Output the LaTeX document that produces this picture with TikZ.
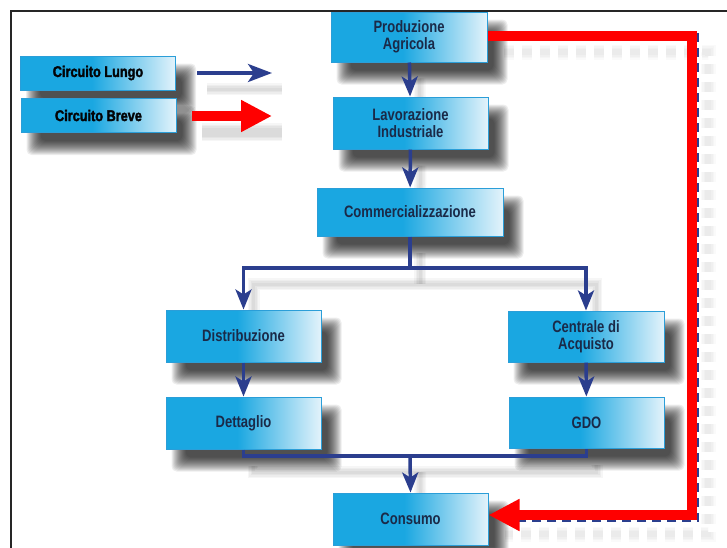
\documentclass[tikz,border=0pt]{standalone}
\usepackage{fontspec}
\setmainfont{Liberation Sans}[FakeStretch=0.82]
\newfontfamily\boxfont{Liberation Sans}[FakeStretch=0.79]
\newfontfamily\legfont{Liberation Sans}[FakeStretch=0.82,FakeBold=2]
\usetikzlibrary{arrows.meta}
\definecolor{boxcyan}{HTML}{1AA7E1}
\definecolor{boxlight}{HTML}{E3F3FB}
\definecolor{boxedge}{HTML}{2B9ED8}
\definecolor{navytext}{HTML}{1A2A48}
\definecolor{navyline}{HTML}{2B3E8E}
\definecolor{redline}{HTML}{FF0000}
\pgfdeclarehorizontalshading{boxshade}{100bp}{color(0bp)=(boxcyan); color(48bp)=(boxcyan); color(75bp)=(boxlight); color(100bp)=(boxlight)}
\pgfdeclarelayer{bg}
\pgfsetlayers{bg,main}
\begin{document}
\begin{tikzpicture}[x=1pt,y=-1pt,
  box/.style={draw=boxedge, line width=1pt, shade, shading=boxshade,
    minimum width=155pt, minimum height=52pt, inner sep=0pt, align=center,
    text=navytext, font=\boxfont\bfseries\fontsize{16.5}{17.5}\selectfont},
  legendbox/.style={box, minimum height=34pt, text=black!90!navytext, font=\legfont\bfseries\fontsize{15.5}{17}\selectfont},
  conn/.style={draw=navyline, line width=3.5pt},
  arr/.style={conn, -{Stealth[length=20pt,width=16pt,inset=5pt]}},
  legarr/.style={conn, -{Stealth[length=24pt,width=18pt,inset=6pt]}},
  redarr/.style={draw=redline, line width=10pt, line join=miter, -{Triangle[length=31pt,width=30pt]}},
  bluedash/.style={draw=navyline, line width=1.5pt, dash pattern=on 9pt off 6pt},
  lineshadow/.style={draw=black, draw opacity=0.035, transform canvas={xshift=10pt,yshift=-16pt}},
  redshadow/.style={draw=black, draw opacity=0.02, dash pattern=on 10pt off 8pt, transform canvas={xshift=16pt,yshift=-15pt}},
  softshadow/.style={fill=black, fill opacity=0.07, rounded corners=5pt},
  framestyle/.style={draw=black!85, line width=2pt}
]
\useasboundingbox (0,0) rectangle (727,547);

% boxes
\node[legendbox] (lungo) at (98,73) {Circuito Lungo};
\node[legendbox] (breve) at (98.5,115.5) {Circuito Breve};
\node[box, minimum width=156pt, minimum height=50pt] (prod) at (409,37) {Produzione\\Agricola};
\node[box] (lav) at (410.5,123) {Lavorazione\\Industriale};
\node[box, minimum width=186pt, minimum height=48pt] (comm) at (410,212) {Commercializzazione};
\node[box] (distr) at (243.5,336) {Distribuzione};
\node[box] (dett) at (243.5,423) {Dettaglio};
\node[box, minimum width=156pt, minimum height=51pt] (centr) at (586,336.5) {Centrale di\\Acquisto};
\node[box, minimum height=51pt] (gdo) at (586.5,422.5) {GDO};
\node[box] (cons) at (410.5,519) {Consumo};

% helper coordinates
\coordinate (split) at (410,268);
\coordinate (merge) at (410,456);
\coordinate (rc) at (692,300);
\coordinate (l1) at (197,73);
\coordinate (l2) at (272,73);
\coordinate (b1) at (192,116);
\coordinate (b2) at (272,116);

% background and soft shadows
\begin{pgfonlayer}{bg}
  \fill[white] (0,0) rectangle (727,547);
  \foreach \n in {lungo,breve,prod,lav,comm,distr,dett,centr,gdo,cons}{
    \foreach \e in {-7,-6,...,7}{
      \fill[softshadow] ([shift={(13-\e,15-\e)}]\n.north west) rectangle ([shift={(13+\e,15+\e)}]\n.south east);
    }
  }
  \foreach \w in {3,6,9,12}{
    \draw[lineshadow, line width=\w pt] (l1) -- (l2);
    \draw[lineshadow, line width=\w pt+6pt] (b1) -- (b2);
    \draw[lineshadow, line width=\w pt] (prod) -- (lav);
    \draw[lineshadow, line width=\w pt] (lav) -- (comm);
    \draw[lineshadow, line width=\w pt] (comm) -- (split);
    \draw[lineshadow, line width=\w pt] (split) -| (distr.north);
    \draw[lineshadow, line width=\w pt] (split) -| (centr.north);
    \draw[lineshadow, line width=\w pt] (dett.south) |- (merge) -| (gdo.south);
    \draw[lineshadow, line width=\w pt] (merge) -- (cons.north);
    \draw[redshadow, line width=\w pt+3pt] (prod.east) -| (rc) |- (cons.east);
  }
\end{pgfonlayer}

% frame
\draw[framestyle] (10.5,548) -- (10.5,10.5) -- (728,10.5);

% legend arrows
\draw[legarr] (l1) -- (l2);
\draw[redarr] (b1) -- (b2);

% flow connectors
\draw[arr] (prod) -- (lav);
\draw[arr] (lav) -- (comm);
\draw[conn] (comm) -- (split);
\draw[arr] (split) -| (distr.north);
\draw[arr] (split) -| (centr.north);
\draw[arr] (distr) -- (dett);
\draw[arr] (centr) -- (gdo);
\draw[conn] (dett.south) |- (merge) -| (gdo.south);
\draw[arr] (merge) -- (cons.north);

% short circuit
\draw[bluedash, transform canvas={xshift=6pt,yshift=-6pt}] ([yshift=10pt]rc |- prod.east) -- ([yshift=4pt]rc |- cons.east) -- ([xshift=22pt,yshift=4pt]cons.east);
\draw[redarr] ([yshift=1.5pt]prod.east) -| (rc) |- ([yshift=4pt]cons.east);
\end{tikzpicture}
\end{document}
